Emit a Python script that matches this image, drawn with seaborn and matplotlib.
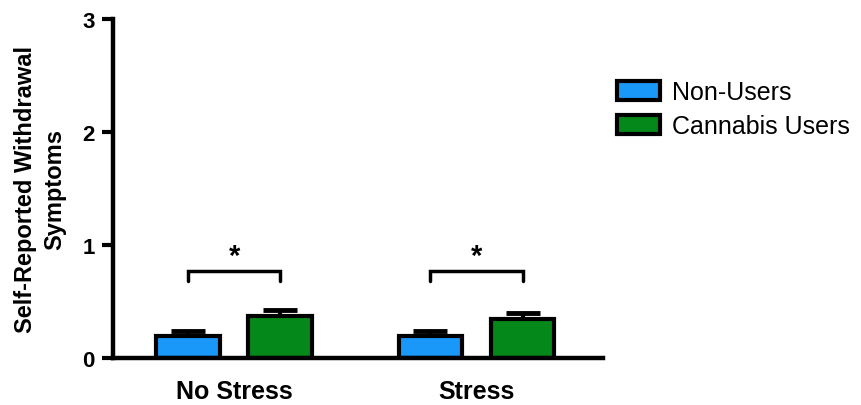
import matplotlib
matplotlib.use('Agg')
import matplotlib.pyplot as plt
import pandas as pd
import seaborn as sns
from matplotlib.patches import Patch

# values
conditions = ['No Stress', 'Stress']
groups = ['Non-Users', 'Cannabis Users']
means_non = [0.19, 0.19]
means_can = [0.37, 0.34]
sem_non = [0.05, 0.05]
sem_can = [0.055, 0.055]
bracket_y = 0.77
bracket_drop = 0.09

colors = ['#1A98FA', '#04881A']

df = pd.DataFrame({
    'condition': conditions * 2,
    'group': [groups[0]] * 2 + [groups[1]] * 2,
    'mean': means_non + means_can,
    'sem': sem_non + sem_can,
})

sns.set_style('ticks')
plt.rcParams['font.family'] = ['Liberation Sans', 'DejaVu Sans']
for key in ['text.color', 'axes.labelcolor', 'xtick.color', 'ytick.color', 'axes.edgecolor']:
    plt.rcParams[key] = 'black'

fig = plt.figure(figsize=(8.62, 4.06), dpi=100)
ax = fig.add_axes([0.131, 0.116, 0.568, 0.835])

sns.barplot(data=df, x='condition', y='mean', hue='group', hue_order=groups,
            order=conditions, palette=colors, saturation=1, width=0.76, gap=0.31,
            errorbar=None, edgecolor='black', linewidth=3, legend=False,
            ax=ax, zorder=3)

# error bars (upper only) and significance brackets, from the bar patches
bars = {}
for patch, (_, row) in zip(ax.patches, df.iterrows()):
    cx = patch.get_x() + patch.get_width() / 2
    bars[(row['condition'], row['group'])] = cx
    ax.errorbar(cx, row['mean'], yerr=[[0], [row['sem']]], fmt='none',
                ecolor='black', elinewidth=3, capsize=12, capthick=3.5, zorder=2)

for cond in conditions:
    x1 = bars[(cond, groups[0])]
    x2 = bars[(cond, groups[1])]
    ax.plot([x1, x1, x2, x2],
            [bracket_y - bracket_drop, bracket_y, bracket_y, bracket_y - bracket_drop],
            color='black', lw=2.5, solid_capstyle='round', solid_joinstyle='miter')
    ax.text((x1 + x2) / 2, bracket_y + 0.01, '*', ha='center', va='bottom',
            fontsize=21, fontweight='bold')

ax.set_ylim(0, 3)
ax.set_xlim(-0.5, 1.52)
ax.set_yticks([0, 1, 2, 3])
ax.set_xlabel('')
ax.set_ylabel('Self-Reported Withdrawal\nSymptoms', fontsize=17, fontweight='bold',
              labelpad=12, linespacing=1.3)
for lab in ax.get_yticklabels():
    lab.set_fontweight('bold')
    lab.set_fontsize(16)
for lab in ax.get_xticklabels():
    lab.set_fontweight('bold')
    lab.set_fontsize(18)
ax.tick_params(axis='y', length=8, width=3, pad=5)
ax.tick_params(axis='x', length=0, pad=15)

sns.despine(ax=ax)
for side in ['left', 'bottom']:
    ax.spines[side].set_linewidth(3.2)
    ax.spines[side].set_zorder(4)

handles = [Patch(facecolor=c, edgecolor='black', linewidth=3, label=g)
           for c, g in zip(colors, groups)]
fig.legend(handles=handles, loc='upper left', bbox_to_anchor=(0.69, 0.855),
           frameon=False, fontsize=18, handlelength=1.72, handleheight=0.8,
           labelspacing=0.4, handletextpad=0.45)

fig.savefig('out.png', dpi=100)
